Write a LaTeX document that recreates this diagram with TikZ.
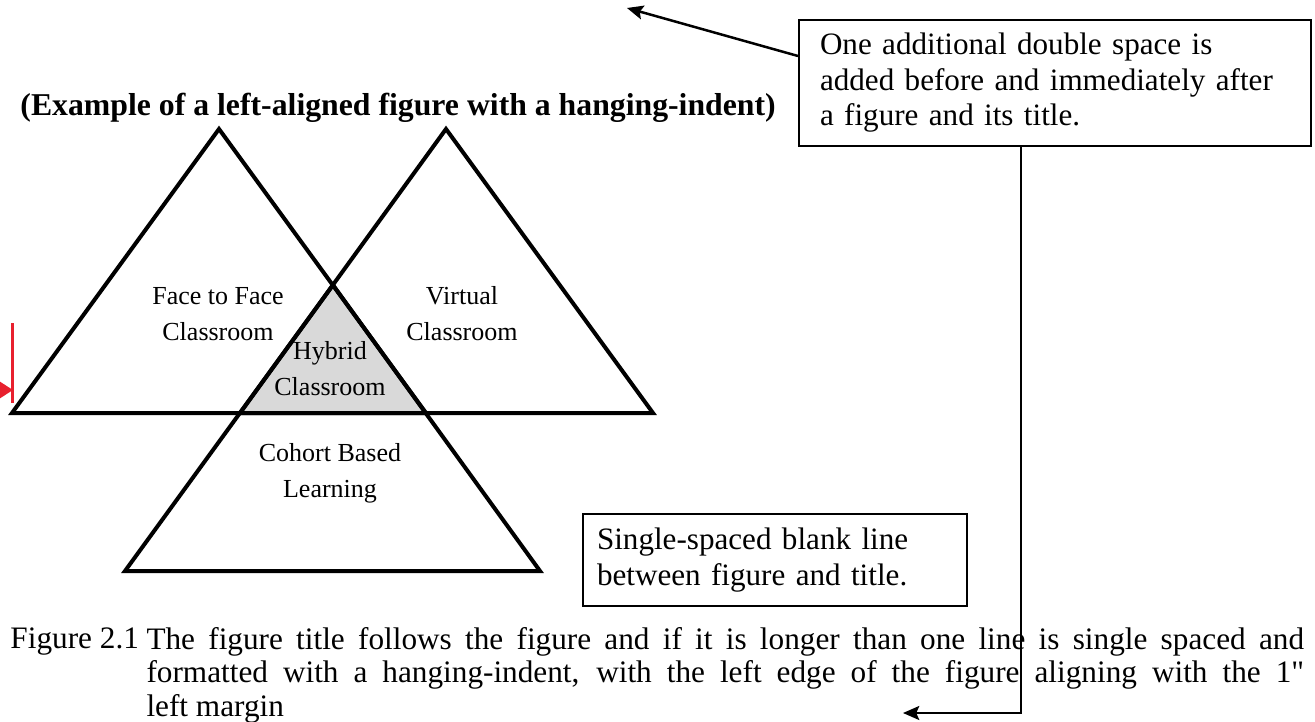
\documentclass[tikz,border=0pt]{standalone}
\usepackage{fontspec}
\setmainfont{Liberation Serif}[Ligatures=TeXOff]
\usetikzlibrary{arrows.meta}
\usetikzlibrary{positioning}
\definecolor{marginred}{RGB}{232,32,46}
\definecolor{hybridgray}{RGB}{217,217,217}
\newcommand{\capline}[1]{\makebox[463pt][s]{#1}}

\begin{document}
\begin{tikzpicture}[x=0.4pt,y=-0.4pt,>={Stealth[length=6.5pt,width=5.6pt,inset=1.2pt]},on grid,
		tri/.style={draw=black,line width=1.6pt},
		note/.style={rectangle,draw=black,line width=0.8pt,inner ysep=0pt,align=left,font=\fontsize{12.45}{14.2}\selectfont},
		lbl/.style={align=center,inner sep=0pt,font=\fontsize{10.4}{14.4}\selectfont},
		capt/.style={align=left,inner sep=0pt,font=\fontsize{12.5}{13.3}\selectfont}]
		\useasboundingbox (0,0) rectangle (1315,721);
		
		% the three triangles
		\fill[hybridgray] (333,285) -- (240,413) -- (426,413) -- cycle;
		\draw[tri] (219,129) -- (12,413) -- (426,413) -- cycle;
		\draw[tri] (446,129) -- (240,413) -- (653,413) -- cycle;
		\draw[tri] (333,285) -- (125,571) -- (540,571) -- cycle;
		
		\node[lbl]  (ftf)   at (218,314)          {Face to Face\\ Classroom};
		\node[lbl]  (virt)  [right=97.6pt of ftf] {Virtual\\ Classroom};
		\node[lbl]  (hyb)   at (330,369)          {Hybrid\\ Classroom};
		\node[lbl]  (coh)   [below=41.8pt of hyb] {Cohort Based\\ Learning};
		
		\node[anchor=base west,inner sep=0pt,font=\bfseries\fontsize{12.7}{15}\selectfont] (title) at (20,115)
			{(Example of a left-aligned figure with a hanging-indent)};
		
		\node[note,minimum width=204.8pt,minimum height=50.4pt,text width=188pt,inner xsep=8.4pt] (dbl) at (1055,83)
			{One additional double space is\\ added before and immediately after\\ a figure and its title.};
		\node[note,minimum width=153.6pt,minimum height=36.8pt,text width=142.4pt,inner xsep=5.6pt] (blank) at (775,560)
			{Single-spaced blank line\\ between figure and title.};
		
		\node[capt,anchor=north west] (fignum) at (10,627)  {Figure 2.1};
		\node[capt,anchor=north west] (cap)    at (146,627)
			{\capline{The figure title follows the figure and if it is longer than one line is single spaced and}\\
			 \capline{formatted with a hanging-indent, with the left edge of the figure aligning with the 1"}\\
			 left margin};
		
		\coordinate (up)   at (627,8);
		\coordinate (bend) at (1021,713);
		\coordinate (low)  at (903,713);
		\draw[->,line width=1pt]   (dbl.174) -- (up);
		\draw[->,line width=0.8pt] (dbl.south -| bend) -- (bend) -- (low);
		
		% margin mark
		\coordinate (mtop)  at (12,323);
		\coordinate (mbot)  at (12,403);
		\coordinate (mfrom) at (-40,390);
		\coordinate (mto)   at (13,390);
		\draw[marginred,line width=1.2pt] (mtop) -- (mbot);
		\draw[-{Triangle[length=5.4pt,width=6.6pt]},marginred,line width=1.2pt] (mfrom) -- (mto);
\end{tikzpicture}
\end{document}
